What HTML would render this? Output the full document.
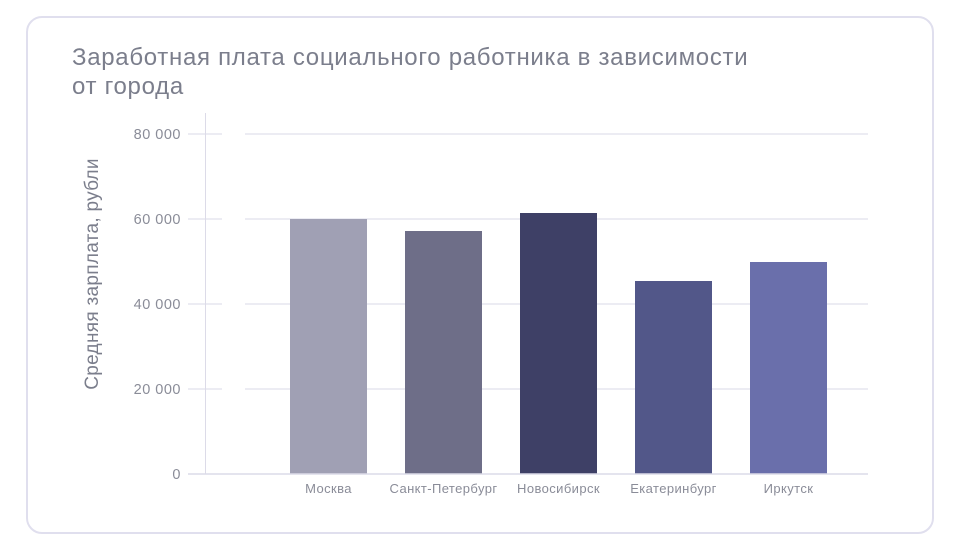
<!DOCTYPE html>
<html><head><meta charset="utf-8"><style>
body{margin:0;background:#fff;width:961px;height:550px;overflow:hidden;font-family:"Liberation Sans",sans-serif;}
.card{position:absolute;left:26px;top:16px;width:908px;height:518px;border:2px solid #e0dfee;border-radius:16px;box-sizing:border-box;}
.title{position:absolute;left:72px;top:43px;font-size:24px;letter-spacing:0.7px;line-height:29px;color:#7b7e8c;}
</style></head><body>
<div class="card"></div>
<div class="title">Заработная плата социального работника в зависимости<br>от города</div>
<svg width="961" height="550" style="position:absolute;left:0;top:0" font-family="Liberation Sans, sans-serif">
<g stroke="#e6e5ef" stroke-width="1.5">
<line x1="188" y1="134" x2="222" y2="134"/><line x1="245" y1="134" x2="868" y2="134"/>
<line x1="188" y1="219" x2="222" y2="219"/><line x1="245" y1="219" x2="868" y2="219"/>
<line x1="188" y1="304" x2="222" y2="304"/><line x1="245" y1="304" x2="868" y2="304"/>
<line x1="188" y1="389" x2="222" y2="389"/><line x1="245" y1="389" x2="868" y2="389"/>
</g>
<line x1="205.5" y1="113" x2="205.5" y2="474" stroke="#dcdbe8" stroke-width="1"/>
<rect x="290" y="219" width="77" height="255" fill="#a0a0b4"/>
<rect x="405" y="231" width="77" height="243" fill="#6e6e88"/>
<rect x="520" y="213" width="77" height="261" fill="#3e4066"/>
<rect x="635" y="281" width="77" height="193" fill="#525789"/>
<rect x="750" y="262" width="77" height="212" fill="#6a6fab"/>
<line x1="188" y1="474" x2="868" y2="474" stroke="#dcdbe8" stroke-width="1.5"/>
<g fill="#8a8c98" font-size="14.5" letter-spacing="0.5" text-anchor="end">
<text x="181" y="139">80 000</text><text x="181" y="224">60 000</text>
<text x="181" y="309">40 000</text><text x="181" y="394">20 000</text><text x="181" y="479">0</text>
</g>
<g fill="#8a8c98" font-size="13" letter-spacing="0.4" text-anchor="middle">
<text x="328.5" y="493">Москва</text><text x="443.5" y="493">Санкт-Петербург</text>
<text x="558.5" y="493">Новосибирск</text><text x="673.5" y="493">Екатеринбург</text><text x="788.5" y="493">Иркутск</text>
</g>
<text transform="translate(98,274) rotate(-90)" text-anchor="middle" fill="#7b7e8c" font-size="19" letter-spacing="0.3">Средняя зарплата, рубли</text>
</svg>
</body></html>
